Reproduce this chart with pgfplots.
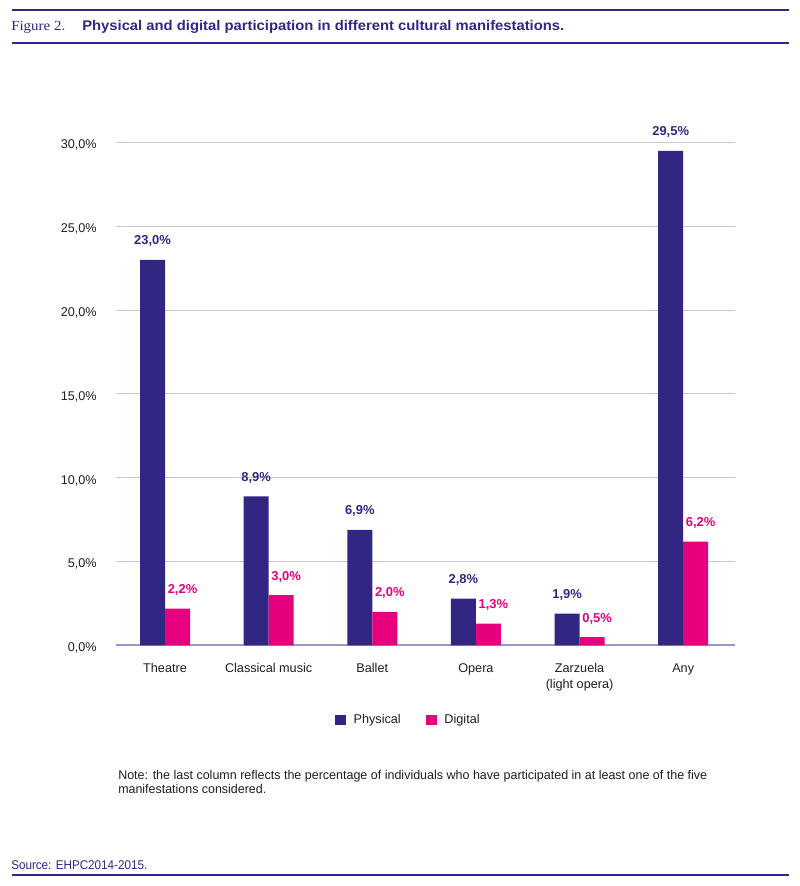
\documentclass[border=0pt]{standalone}
\usepackage{pgfplots}
\pgfplotsset{compat=1.18}
\usepackage{graphicx}
\usepackage{fontspec}
\setmainfont{Liberation Sans}
\newfontfamily\serifff{Liberation Serif}
\definecolor{navy}{RGB}{49,39,131}
\definecolor{mag}{RGB}{230,0,126}
\definecolor{gridc}{RGB}{200,196,224}
\definecolor{basec}{RGB}{155,150,200}
\definecolor{txt}{RGB}{30,30,30}
\begin{document}
\begin{tikzpicture}
\path[use as bounding box] (0,0) rectangle (600pt,-664.5pt);
% header
\draw[navy, line width=1.5pt] (9pt,-7.5pt) -- (591.75pt,-7.5pt);
\node[anchor=base west, inner sep=0pt, text=navy] at (8.25pt,-22.5pt) {\resizebox{40.5pt}{\height}{\serifff\fontsize{10.5}{12}\selectfont Figure 2.}};
\node[anchor=base west, inner sep=0pt, text=navy] at (61.5pt,-22.5pt) {\resizebox{361.5pt}{\height}{\bfseries\fontsize{10.5}{12}\selectfont Physical and digital participation in different cultural manifestations.}};
\draw[navy, line width=1.5pt] (9pt,-32.25pt) -- (591.75pt,-32.25pt);
\begin{axis}[
  at={(87pt,-484.1pt)}, anchor=south west,
  scale only axis, width=464.25pt, height=377.25pt,
  ymin=0, ymax=30, xmin=-0.473, xmax=5.5,
  ybar=0pt, bar width=18.75pt,
  ytick={0,5,...,30},
  xtick={0,...,5},
  xticklabels={Theatre, Classical music, Ballet, Opera, {Zarzuela\\(light opera)}, Any},
  major tick length=0pt,
  ymajorgrids, grid style={gridc, line width=0.75pt},
  axis x line*=bottom, axis y line*=left,
  x axis line style={basec, line width=1.5pt, -},
  y axis line style={draw=none},
  /pgf/number format/assume math mode=true,
  yticklabel={\pgfmathprintnumber[fixed,fixed zerofill,precision=1,use comma]{\tick}\%},
  yticklabel style={anchor=east, inner sep=0pt, xshift=-14.25pt, yshift=-2pt, text=txt, font=\fontsize{9.5}{11}\selectfont},
  xticklabel style={anchor=north, inner sep=0pt, yshift=-13.5pt, align=center, text=txt, font=\fontsize{9.5}{11.6}\selectfont},
  nodes near coords={\pgfmathprintnumber[fixed,fixed zerofill,precision=1,use comma]{\pgfplotspointmeta}\%},
  nodes near coords style={anchor=base, inner sep=0pt, yshift=11.25pt, font=\bfseries\fontsize{9.7}{11}\selectfont},
  clip=false,
  legend columns=2,
  legend style={at={(0.3538,-0.148)}, anchor=west, draw=none, fill=none, inner sep=0pt,
    font=\fontsize{9.5}{11}\selectfont, text=txt,
    /tikz/every odd column/.append style={column sep=3.5pt},
    /tikz/every even column/.append style={column sep=17pt}},
  legend cell align=left,
]
\addplot[fill=navy, draw=none, every node near coord/.append style={text=navy},
  legend image code/.code={\fill[navy] (0pt,-3.75pt) rectangle (8.25pt,3.75pt);}]
  coordinates {(0,23.0) (1,8.9) (2,6.9) (3,2.8) (4,1.9) (5,29.5)};
\addplot[fill=mag, draw=none, every node near coord/.append style={text=mag, xshift=3.75pt},
  legend image code/.code={\fill[mag] (0pt,-3.75pt) rectangle (8.25pt,3.75pt);}]
  coordinates {(0,2.2) (1,3.0) (2,2.0) (3,1.3) (4,0.5) (5,6.2)};
\legend{Physical, Digital}
\end{axis}
% note
\node[anchor=base west, inner sep=0pt, text=txt] at (88.5pt,-584.25pt) {\resizebox{441.75pt}{\height}{\fontsize{9.5}{11}\selectfont Note: the last column reflects the percentage of individuals who have participated in at least one of the five}};
\node[anchor=base west, inner sep=0pt, text=txt] at (88.5pt,-594.75pt) {\resizebox{111pt}{\height}{\fontsize{9.5}{11}\selectfont manifestations considered.}};
% source
\node[anchor=base west, inner sep=0pt, text=navy] at (8.25pt,-651.75pt) {\resizebox{102pt}{\height}{\fontsize{9.5}{11}\selectfont Source: EHPC2014-2015.}};
\draw[navy, line width=1.5pt] (9pt,-656.5pt) -- (591.75pt,-656.5pt);
\end{tikzpicture}
\end{document}
